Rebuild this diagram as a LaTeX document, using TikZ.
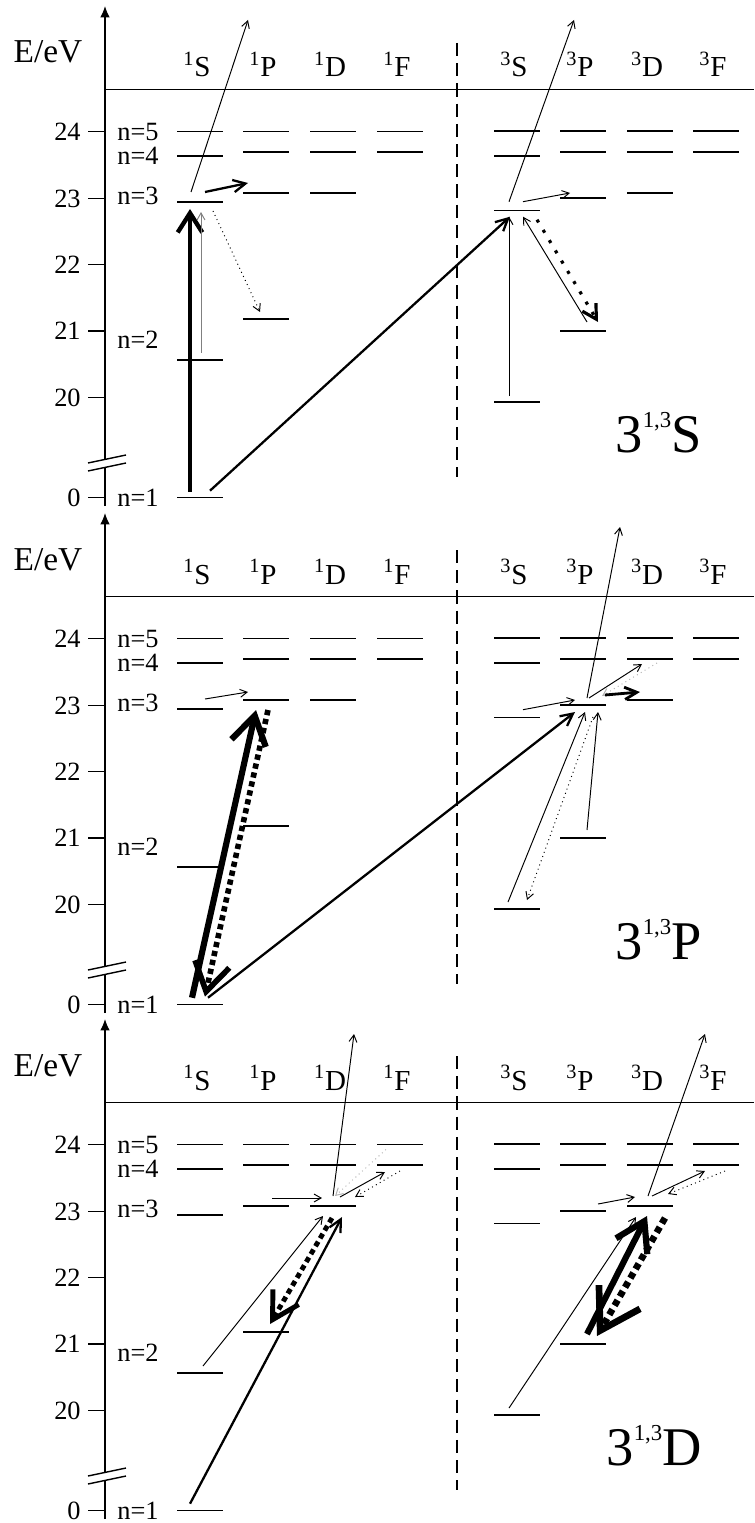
\documentclass[tikz,border=0pt]{standalone}
\usepackage{fontspec}
\setmainfont{Liberation Serif}
\usetikzlibrary{arrows.meta, calc}

\begin{document}
\begin{tikzpicture}[
    x=0.02cm, y=0.02cm,
    lvl/.style={rectangle, fill=black, minimum width=0.92cm, minimum height=0.85pt, inner sep=0pt, outer sep=0pt},
    axisln/.style={line width=0.8pt},
    sepline/.style={line width=0.6pt, dash pattern=on 7.5pt off 4pt},
    hdr/.style={anchor=base, inner sep=0pt, font=\fontsize{16.5}{16.5}\selectfont},
    ticklbl/.style={anchor=east, inner sep=0pt, font=\fontsize{15}{15}\selectfont},
    nlbl/.style={anchor=west, inner sep=0pt, font=\fontsize{15}{15}\selectfont},
    elbl/.style={anchor=base, inner sep=0pt, font=\fontsize{19}{19}\selectfont},
    termlbl/.style={anchor=base east, inner sep=0pt, font=\fontsize{31}{31}\selectfont},
    thinarr/.style={-{Straight Barb[length=4pt,width=4.5pt]}, line width=0.55pt},
    midarr/.style={-{Straight Barb[length=7pt,width=7pt]}, line width=1.3pt},
    boldarr/.style={-{Straight Barb[length=11pt,width=14pt]}, line width=2.5pt},
    heavyarr/.style={-{Straight Barb[length=16pt,width=20pt]}, line width=3.5pt},
    thindots/.style={thinarr, dotted},
    faintdots/.style={thinarr, dotted, gray!60},
    middots/.style={-{Straight Barb[length=8pt,width=9pt]}, line width=1.8pt, dash pattern=on 1.8pt off 5pt},
    bolddots/.style={-{Straight Barb[length=15pt,width=17pt]}, line width=2.8pt, dash pattern=on 3pt off 2.2pt},
    heavydots/.style={-{Straight Barb[length=16pt,width=20pt]}, line width=3.2pt, dash pattern=on 3pt off 2.2pt},
    hugedots/.style={-{Straight Barb[length=22pt,width=27pt]}, line width=3.8pt, dash pattern=on 3.5pt off 2.5pt}
  ]
  \useasboundingbox (0,0) rectangle (754,-1523);

  % the three panels share axis, levels and headings
  \foreach \p/\oy/\term in {a/0/S, b/507/P, c/1013/D} {
    \begin{scope}[shift={(0,-\oy)}]
      \draw[axisln] (105,-506) -- (105,-467.4);
      \draw[axisln, -{Latex[length=6.5pt,width=5.5pt]}] (105,-459.4) -- (105,-6);
      \draw[axisln] (88,-463) -- (126,-455) (88,-471) -- (126,-463);
      \draw[axisln] (105,-89.5) -- (754,-89.5);
      \draw[sepline] (457,-43) -- (457,-477);
      \node[elbl] (elbl-\p) at (48,-63) {E/eV};

      \foreach \ty/\tv in {131.5/24,198.5/23,264.3/22,331/21,397.7/20,497.7/0} {
        \draw[axisln] (88,-\ty) -- (105,-\ty);
        \node[ticklbl] (tick-\p\tv) at (81,-\ty) {\tv};
      }
      \foreach \ny/\nn in {131.7/5,156/4,196/3,340/2,498/1}
        \node[nlbl] (nlbl-\p\nn) at (117,-\ny) {n=\nn};

      \foreach \cx/\s/\L in {200/1/S,266/1/P,333/1/D,400/1/F,517/3/S,583/3/P,650/3/D,716/3/F}
        \node[hdr] (hdr-\p\s\L) at (\cx-3,-77) {\textsuperscript{\s}\L};

      \foreach \nm/\cx/\lv in {
          1S/200/{1/497.7,2/360,3/202,4/156,5/131.5},
          1P/266/{2/319,3/193,4/152,5/131.5},
          1D/333/{3/193,4/152,5/131.5},
          1F/400/{4/152,5/131.5},
          3S/517/{2/402,3/210.7,4/156,5/131},
          3P/583/{2/331,3/198,4/152,5/131},
          3D/650/{3/193,4/152,5/131},
          3F/716/{4/152,5/131}}
        \foreach \nn/\ly in \lv
          \node[lvl] (\p\nm\nn) at (\cx,-\ly) {};

      \node[termlbl] (term-\p) at (702,-452) {3\raisebox{14pt}{\fontsize{13}{13}\selectfont 1,3}\term};
    \end{scope}
  }

  % 3 1,3S
  \coordinate (a1Sout) at (248,-20);
  \coordinate (a3Sout) at (574,-20);
  \draw[boldarr] ($(a1S1)+(-10,6)$) -- ($(a1S3)+(-10,-7)$);
  \draw[thinarr, gray] ($(a1S2)+(1,7)$) -- ($(a1S3)+(1,-10)$);
  \draw[thinarr] ($(a1S3)+(-9,10)$) -- (a1Sout);
  \draw[midarr] ($(a1S3)+(5,10)$) -- ($(a1P3)+(-18,10)$);
  \draw[thindots] ($(a1S3)+(13,-9)$) -- ($(a1P2)+(-6,7)$);
  \draw[midarr] ($(a1S1)+(10,7)$) -- ($(a3S3)+(-7,-6)$);
  \draw[thinarr] ($(a3S2)+(-8,6)$) -- ($(a3S3)+(-8,-6)$);
  \draw[thinarr] ($(a3P2)+(4,9)$) -- ($(a3S3)+(6,-6)$);
  \draw[middots] ($(a3S3)+(20,-9)$) -- ($(a3P2)+(15,9)$);
  \draw[thinarr] ($(a3S3)+(6,9)$) -- ($(a3P3)+(-13,5)$);
  \draw[thinarr] ($(a3S3)+(-8,9)$) -- (a3Sout);

  % 3 1,3P
  \coordinate (b3Pout) at (620,-527);
  \draw[thinarr] ($(b1S3)+(5,10)$) -- ($(b1P3)+(-18,8)$);
  \draw[heavyarr] ($(b1S1)+(-8,7)$) -- ($(b1P3)+(-10,-10)$);
  \draw[heavydots] ($(b1P3)+(2,-10)$) -- ($(b1S1)+(5,8)$);
  \draw[midarr] ($(b1S1)+(8,7)$) -- ($(b3P3)+(-8,-7)$);
  \draw[thinarr] ($(b3S3)+(6,8)$) -- ($(b3P3)+(-8,5)$);
  \draw[thinarr] ($(b3S2)+(-9,7)$) -- ($(b3P3)+(2,-7)$);
  \draw[thindots] ($(b3P3)+(10,-12)$) -- ($(b3S2)+(10,9)$);
  \draw[thinarr] ($(b3P2)+(4,8)$) -- ($(b3P3)+(15,-7)$);
  \draw[thinarr] ($(b3P3)+(4,7)$) -- (b3Pout);
  \draw[thinarr] ($(b3P3)+(6,7)$) -- ($(b3D4)+(-8,-5)$);
  \draw[faintdots] ($(b3D4)+(7,-4)$) -- ($(b3P3)+(19,9)$);
  \draw[midarr, line width=1.6pt] ($(b3P3)+(22,10)$) -- ($(b3D3)+(-10,8)$);

  % 3 1,3D
  \coordinate (c1Dout) at (354,-1034);
  \coordinate (c3Dout) at (705,-1034);
  \draw[thinarr] ($(c1P3)+(6,8)$) -- ($(c1D3)+(-11,8)$);
  \draw[thinarr] ($(c1D3)+(0,10)$) -- (c1Dout);
  \draw[faintdots] ($(c1F5)+(-14,-5)$) -- ($(c1D3)+(2,10)$);
  \draw[thinarr] ($(c1D3)+(7,9)$) -- ($(c1F4)+(-15,-7)$);
  \draw[thindots] ($(c1F4)+(0,-6)$) -- ($(c1D3)+(22,9)$);
  \draw[thinarr] ($(c1S2)+(3,7)$) -- ($(c1D3)+(-10,-10)$);
  \draw[bolddots] ($(c1D3)+(-1,-12)$) -- ($(c1P2)+(4,8)$);
  \draw[midarr] ($(c1S1)+(-10,7)$) -- ($(c1D3)+(9,-11)$);
  \draw[thinarr] ($(c3P3)+(15,7)$) -- ($(c3D3)+(-15,9)$);
  \draw[thinarr] ($(c3D3)+(-2,10)$) -- (c3Dout);
  \draw[thinarr] ($(c3D3)+(2,10)$) -- ($(c3F4)+(-11,-6)$);
  \draw[thindots] ($(c3F4)+(9,-6)$) -- ($(c3D3)+(18,12)$);
  \draw[thinarr] ($(c3S2)+(-8,7)$) -- ($(c3D3)+(-14,-11)$);
  \draw[heavyarr] ($(c3P2)+(4,10)$) -- ($(c3D3)+(-3,-10)$);
  \draw[hugedots] ($(c3D3)+(15,-12)$) -- ($(c3P2)+(14,8)$);
\end{tikzpicture}
\end{document}
